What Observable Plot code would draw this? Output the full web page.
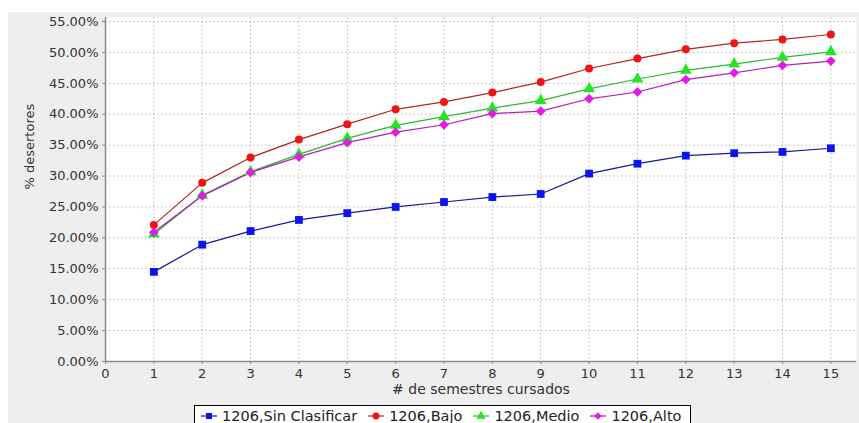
<!DOCTYPE html>
<html>
<head>
<meta charset="utf-8">
<script src="https://cdn.jsdelivr.net/npm/d3@7"></script>
<script src="https://cdn.jsdelivr.net/npm/@observablehq/plot@0.6"></script>
<style>
  html, body { margin: 0; padding: 0; background: #ffffff; width: 859px; height: 423px; overflow: hidden; font-family: "DejaVu Sans", sans-serif; }
  #panel { position: absolute; left: 8px; top: 12px; width: 851px; height: 411px; background: #eeeeee; }
  #chart { position: absolute; left: 0; top: 0; }
  #legend { position: absolute; left: 194px; top: 405px; width: 497px; height: 30px; border: 1px solid #000; background: #ffffff;
            display: flex; align-items: flex-start; padding-top: 2px; padding-left: 5px; box-sizing: border-box; font-size: 14.5px; color: #222; white-space: nowrap; }
  .item { display: flex; align-items: center; margin-right: 10px; }
  .item svg { margin-right: 4px; }
</style>
</head>
<body>
<div id="panel"></div>
<div id="chart"></div>
<div id="legend"></div>
<script>
const semestres = [1, 2, 3, 4, 5, 6, 7, 8, 9, 10, 11, 12, 13, 14, 15];
const seriesNames = ["1206,Sin Clasificar", "1206,Bajo", "1206,Medio", "1206,Alto"];
const sinClasificar = [14.5, 18.9, 21.1, 22.9, 24.0, 25.0, 25.8, 26.6, 27.1, 30.4, 32.0, 33.3, 33.7, 33.9, 34.5];
const bajo  = [22.1, 28.9, 33.0, 35.9, 38.4, 40.8, 42.0, 43.5, 45.2, 47.4, 49.0, 50.5, 51.5, 52.1, 52.9];
const medio = [20.6, 26.9, 30.7, 33.5, 36.1, 38.2, 39.6, 41.0, 42.2, 44.1, 45.7, 47.1, 48.1, 49.2, 50.1];
const alto  = [20.9, 26.8, 30.6, 33.1, 35.4, 37.1, 38.3, 40.1, 40.5, 42.5, 43.6, 45.6, 46.7, 47.9, 48.6];
const yTicks = [0, 5, 10, 15, 20, 25, 30, 35, 40, 45, 50, 55];
const xTicks = [0, 1, 2, 3, 4, 5, 6, 7, 8, 9, 10, 11, 12, 13, 14, 15];
const xLabel = "# de semestres cursados";
const yLabel = "% desertores";

const fills = ["#0a14f0", "#f01414", "#22e622", "#e619e6"];
const lineColors = ["#1a1a90", "#b02525", "#30b830", "#b020b8"];
const symbols = ["square", "circle", "triangle", "diamond2"];

const allValues = [sinClasificar, bajo, medio, alto];
const data = [];
allValues.forEach((vals, s) => vals.forEach((v, i) => data.push({serie: seriesNames[s], x: semestres[i], y: v})));

const marks = [
  Plot.frame({fill: "#ffffff", stroke: null}),
  Plot.gridX(xTicks.slice(1), {stroke: "#b8b8b8", strokeOpacity: 1, strokeDasharray: "1.5,2.5", strokeWidth: 1}),
  Plot.gridY(yTicks.slice(1), {stroke: "#b8b8b8", strokeOpacity: 1, strokeDasharray: "1.5,2.5", strokeWidth: 1}),
  Plot.ruleX([0], {stroke: "#8a8a8a", strokeWidth: 1.5}),
  Plot.ruleY([0], {stroke: "#8a8a8a", strokeWidth: 1.5}),
  Plot.axisX(xTicks, {tickSize: 3, tickPadding: 4, stroke: "#8a8a8a", label: null, fontSize: 13, fill: "#333", tickFormat: d => String(d)}),
  Plot.axisY(yTicks, {tickSize: 3, tickPadding: 4, stroke: "#8a8a8a", label: null, fontSize: 13, fill: "#333", tickFormat: d => d.toFixed(2) + "%"}),
  Plot.text([xLabel], {frameAnchor: "bottom", lineAnchor: "middle", dy: 28, fontSize: 14, fill: "#333"}),
  Plot.text([yLabel], {frameAnchor: "left", rotate: -90, dx: -76, fontSize: 13, fill: "#333"})
];
seriesNames.forEach((name, s) => {
  const d = data.filter(r => r.serie === name);
  marks.push(Plot.line(d, {x: "x", y: "y", stroke: lineColors[s], strokeWidth: 1.2}));
});
seriesNames.forEach((name, s) => {
  const d = data.filter(r => r.serie === name);
  marks.push(Plot.dot(d, {x: "x", y: "y", fill: fills[s], stroke: null, symbol: () => symbols[s], r: symbols[s] === "circle" ? 4 : 4.4}));
});

const chart = Plot.plot({
  width: 859,
  height: 400,
  marginLeft: 105,
  marginRight: 3,
  marginTop: 17,
  marginBottom: 39,
  style: {background: "transparent", fontFamily: "DejaVu Sans, sans-serif"},
  x: {domain: [0, 15.53]},
  y: {domain: [0, 55.65]},
  symbol: {type: "identity"},
  marks
});
document.getElementById("chart").appendChild(chart);

// legend
const legend = d3.select("#legend");
const symMap = {square: d3.symbolSquare, circle: d3.symbolCircle, triangle: d3.symbolTriangle, diamond2: d3.symbolDiamond2};
seriesNames.forEach((name, s) => {
  const item = legend.append("div").attr("class", "item");
  const svg = item.append("svg").attr("width", 18).attr("height", 12);
  svg.append("line").attr("x1", 1).attr("x2", 17).attr("y1", 6).attr("y2", 6).attr("stroke", lineColors[s]).attr("stroke-width", 1.2);
  svg.append("path").attr("transform", "translate(9,6)").attr("d", d3.symbol(symMap[symbols[s]], 36)()).attr("fill", fills[s]);
  item.append("span").text(name);
});
</script>
</body>
</html>
